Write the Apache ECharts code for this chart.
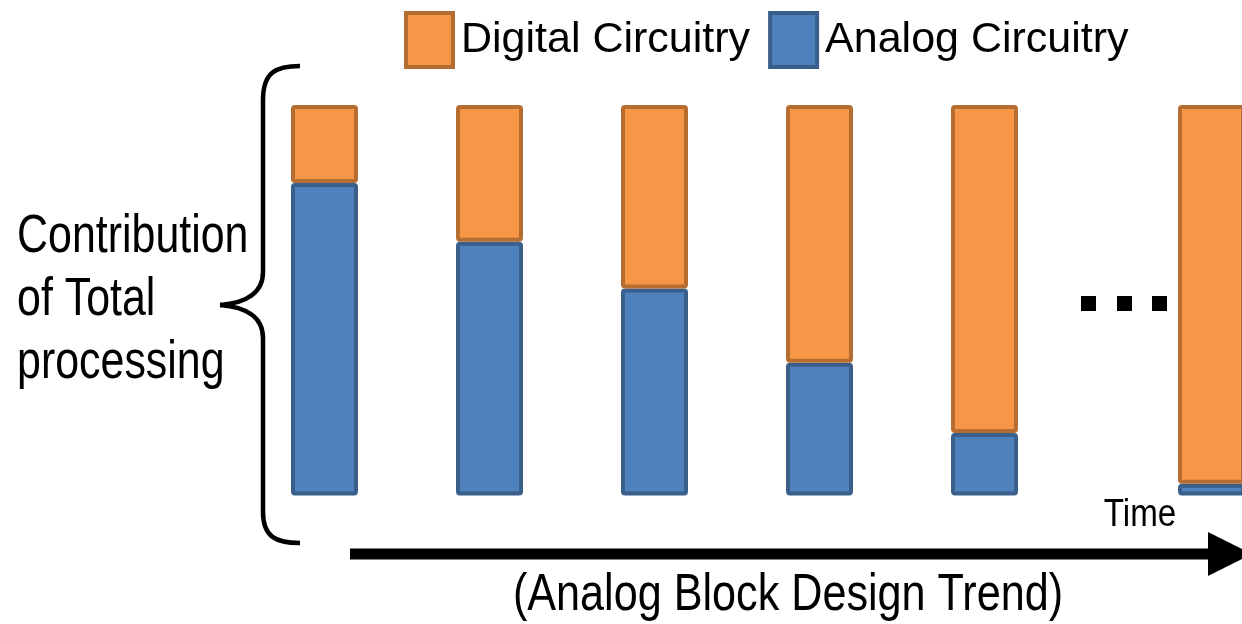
<!DOCTYPE html>
<html>
<head>
<meta charset="utf-8">
<title>Analog Block Design Trend</title>
<script src="https://cdn.jsdelivr.net/npm/echarts@6/dist/echarts.min.js"></script>
<style>
  html, body { margin: 0; padding: 0; background: #ffffff; }
  #chart { width: 1242px; height: 624px; }
</style>
</head>
<body>
<div id="chart"></div>
<script>
// Columns over time; the last one stands after the "..." gap
const stages = ['t1', 't2', 't3', 't4', 't5', 'tn'];
// Share of total processing per column, in percent
const analogShare = [80, 65, 53, 34, 16, 3];
const digitalShare = [20, 35, 47, 66, 84, 97];
const seriesNames = ['Digital Circuitry', 'Analog Circuitry'];
// how many columns come before the gap
const EARLY = 5;

const FONT = '"Liberation Sans", Arial, sans-serif';
const ORANGE = '#F79646', ORANGE_EDGE = '#B66D31';
const BLUE = '#4F81BD', BLUE_EDGE = '#3A5F8B';

const analogStyle = { color: BLUE, borderColor: BLUE_EDGE, borderWidth: 4, borderRadius: 2 };
const digitalStyle = { color: ORANGE, borderColor: ORANGE_EDGE, borderWidth: 4, borderRadius: 2 };
const braceStyle = { fill: 'none', stroke: '#000', lineWidth: 4.5 };

// one bar series per grid and per circuitry kind
function barSeries(name, values, style, gridIdx) {
  return {
    name: name,
    type: 'bar',
    stack: 'total' + gridIdx,
    barWidth: 67,
    xAxisIndex: gridIdx,
    yAxisIndex: gridIdx,
    clip: false,
    data: values,
    itemStyle: style
  };
}

// condensed caption text (horizontal squeeze of a regular face)
function caption(text, x, y, size, squeeze, align) {
  return {
    type: 'text', x: x, y: y, scaleX: squeeze,
    style: { text: text, x: 0, y: 0, font: size + 'px ' + FONT, fill: '#000', textAlign: align, textVerticalAlign: 'middle' }
  };
}

const chart = echarts.init(document.getElementById('chart'), null, { renderer: 'canvas' });

chart.setOption({
  backgroundColor: '#ffffff',
  animation: false,
  legend: {
    data: seriesNames,
    orient: 'horizontal',
    left: 399,
    top: 6,
    width: 840,
    itemWidth: 47,
    itemHeight: 54,
    itemGap: 18,
    icon: 'rect',
    itemStyle: { borderWidth: 4 },
    textStyle: { fontFamily: FONT, fontSize: 43, color: '#000', padding: [0, 0, 0, 3] }
  },
  grid: [
    { left: 242, top: 105, width: 825, height: 390.5 },
    { left: 1182, top: 105, width: 59, height: 390.5 }
  ],
  xAxis: [
    { type: 'category', gridIndex: 0, data: stages.slice(0, EARLY), show: false },
    { type: 'category', gridIndex: 1, data: stages.slice(EARLY), show: false }
  ],
  yAxis: [
    { type: 'value', gridIndex: 0, min: 0, max: 100, show: false },
    { type: 'value', gridIndex: 1, min: 0, max: 100, show: false }
  ],
  series: [
    barSeries('Analog Circuitry', analogShare.slice(0, EARLY), analogStyle, 0),
    barSeries('Digital Circuitry', digitalShare.slice(0, EARLY), digitalStyle, 0),
    barSeries('Analog Circuitry', analogShare.slice(EARLY), analogStyle, 1),
    barSeries('Digital Circuitry', digitalShare.slice(EARLY), digitalStyle, 1)
  ],
  graphic: [
    // curly brace grouping the columns
    { type: 'bezierCurve', shape: { x1: 300, y1: 66, cpx1: 276, cpy1: 66, cpx2: 263, cpy2: 72, x2: 263, y2: 100 }, style: braceStyle },
    { type: 'line', shape: { x1: 263, y1: 100, x2: 263, y2: 272 }, style: braceStyle },
    { type: 'bezierCurve', shape: { x1: 263, y1: 272, cpx1: 263, cpy1: 293, cpx2: 246, cpy2: 303, x2: 220, y2: 305 }, style: braceStyle },
    { type: 'bezierCurve', shape: { x1: 220, y1: 305, cpx1: 246, cpy1: 307, cpx2: 263, cpy2: 317, x2: 263, y2: 338 }, style: braceStyle },
    { type: 'line', shape: { x1: 263, y1: 338, x2: 263, y2: 512 }, style: braceStyle },
    { type: 'bezierCurve', shape: { x1: 263, y1: 512, cpx1: 263, cpy1: 537, cpx2: 276, cpy2: 543, x2: 300, y2: 543 }, style: braceStyle },
    // side caption
    caption('Contribution', 17, 237, 53, 0.81, 'left'),
    caption('of Total', 17, 300, 53, 0.81, 'left'),
    caption('processing', 17, 363, 53, 0.81, 'left'),
    // ellipsis between the early columns and the last one
    { type: 'rect', shape: { x: 1081, y: 296, width: 15, height: 15 }, style: { fill: '#000' } },
    { type: 'rect', shape: { x: 1117, y: 296, width: 15, height: 15 }, style: { fill: '#000' } },
    { type: 'rect', shape: { x: 1152, y: 296, width: 15, height: 15 }, style: { fill: '#000' } },
    // time arrow
    { type: 'line', shape: { x1: 350, y1: 554, x2: 1215, y2: 554 }, style: { stroke: '#000', lineWidth: 11 } },
    { type: 'polygon', shape: { points: [[1208, 532], [1208, 576], [1252, 554]] }, style: { fill: '#000' } },
    caption('Time', 1140, 515, 39, 0.85, 'center'),
    caption('(Analog Block Design Trend)', 788, 596, 52, 0.83, 'center')
  ]
});
</script>
</body>
</html>
